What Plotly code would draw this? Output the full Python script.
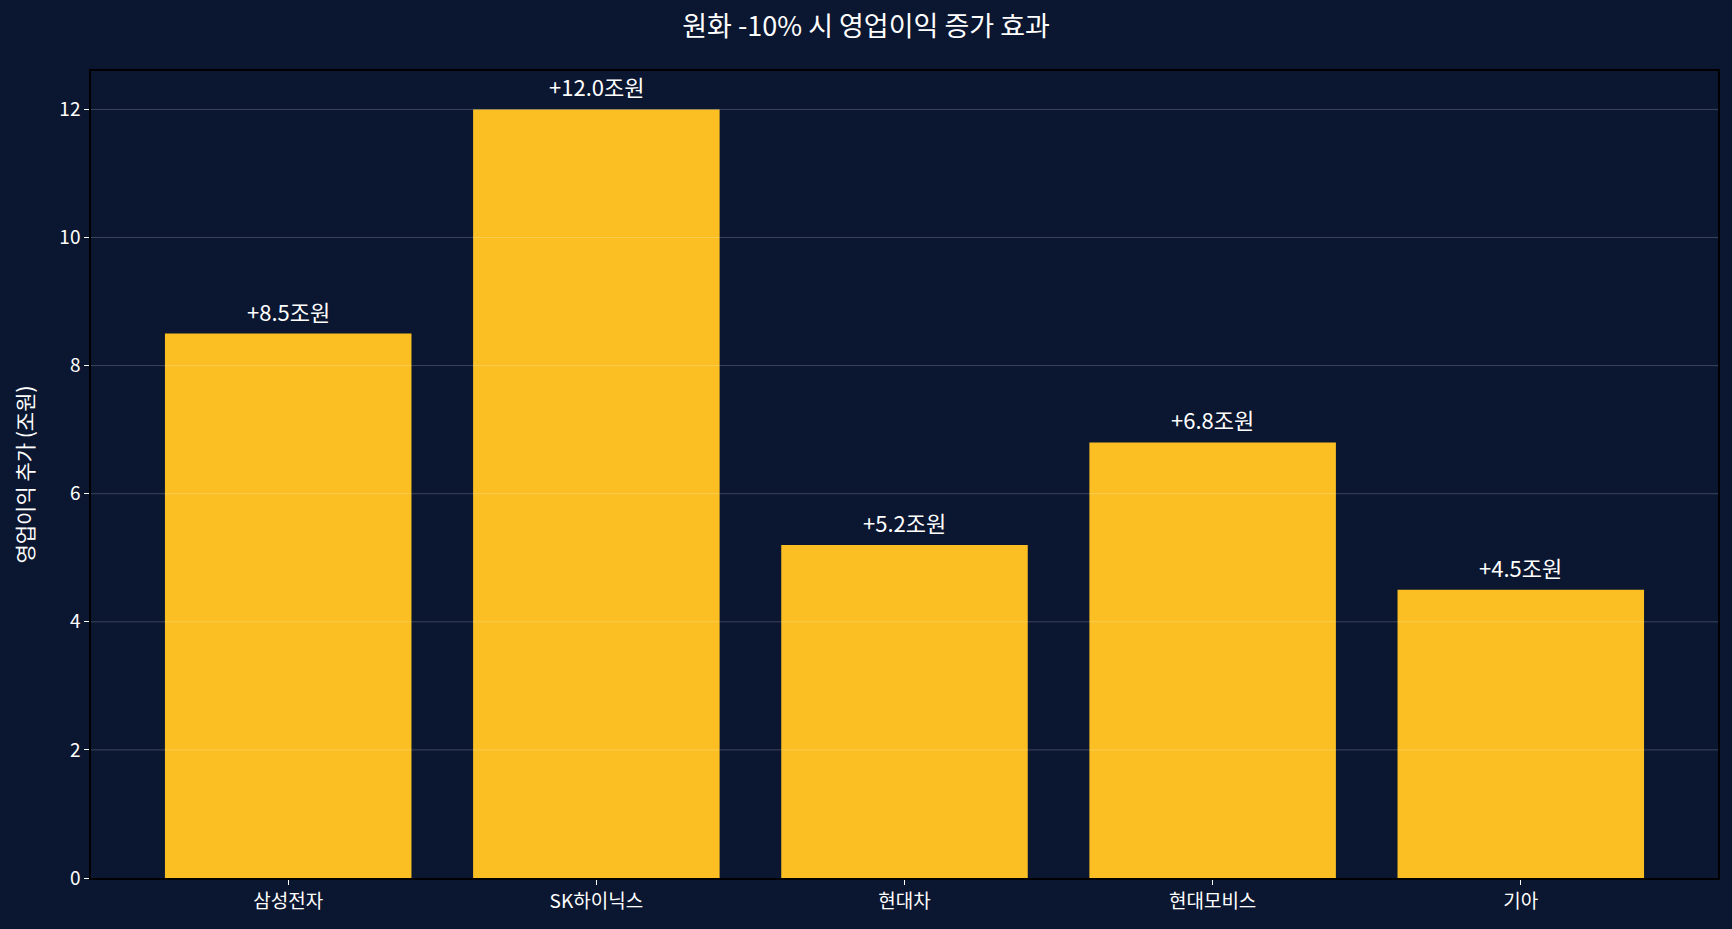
import plotly.graph_objects as go

# 종목별 원화 -10% 시 영업이익 증가분 (조원)
companies = ["삼성전자", "SK하이닉스", "현대차", "현대모비스", "기아"]
gains = [8.5, 12.0, 5.2, 6.8, 4.5]
labels = [f"+{v:.1f}조원" for v in gains]
y_ticks = [0, 2, 4, 6, 8, 10, 12]

BG = "#0b1630"
BAR = "#fbbf24"
GRID = "rgba(255,255,255,0.2)"
FONT = "Noto Sans CJK KR, Noto Sans, sans-serif"

x_pos = list(range(len(companies)))

fig = go.Figure(
    go.Bar(
        x=x_pos,
        y=gains,
        width=0.8,
        marker=dict(color=BAR, line=dict(width=0)),
        hoverinfo="skip",
    )
)

# value labels above each bar
for x, y, t in zip(x_pos, gains, labels):
    fig.add_annotation(
        x=x, y=y, text=t, showarrow=False,
        yanchor="bottom", yshift=5,
        font=dict(size=22, color="white", family=FONT),
    )

# grid drawn over the bars, like the original
for v in y_ticks[1:]:
    fig.add_shape(
        type="line", xref="paper", x0=0, x1=1, yref="y", y0=v, y1=v,
        line=dict(color=GRID, width=1), layer="above",
    )

fig.update_layout(
    width=1732,
    height=929,
    paper_bgcolor=BG,
    plot_bgcolor=BG,
    font=dict(family=FONT, color="white", size=19),
    title=dict(
        text="원화 -10% 시 영업이익 증가 효과",
        x=0.5,
        xanchor="center",
        y=1 - 27 / 929,
        yanchor="middle",
        font=dict(size=27, color="white"),
    ),
    margin=dict(l=91, r=14, t=71, b=51),
    showlegend=False,
)

fig.update_xaxes(
    range=[-0.64, 4.64],
    tickmode="array",
    tickvals=x_pos,
    ticktext=companies,
    showgrid=False,
    zeroline=False,
    showline=True,
    linecolor="black",
    linewidth=1.5,
    mirror=True,
    ticks="outside",
    ticklen=5,
    tickcolor="white",
    tickfont=dict(size=19, color="white"),
)

fig.update_yaxes(
    range=[0, 12.6],
    tickmode="array",
    tickvals=y_ticks,
    showgrid=False,
    zeroline=False,
    showline=True,
    linecolor="black",
    linewidth=1.5,
    mirror=True,
    ticks="outside",
    ticklen=5,
    tickcolor="white",
    tickfont=dict(size=19, color="white"),
    title=dict(text="영업이익 추가 (조원)", font=dict(size=21, color="white"), standoff=20),
)

fig.write_html(
    "out.html",
    config={"displayModeBar": False},
    post_script="document.body.style.margin='0';document.body.style.background='#0b1630';",
)
